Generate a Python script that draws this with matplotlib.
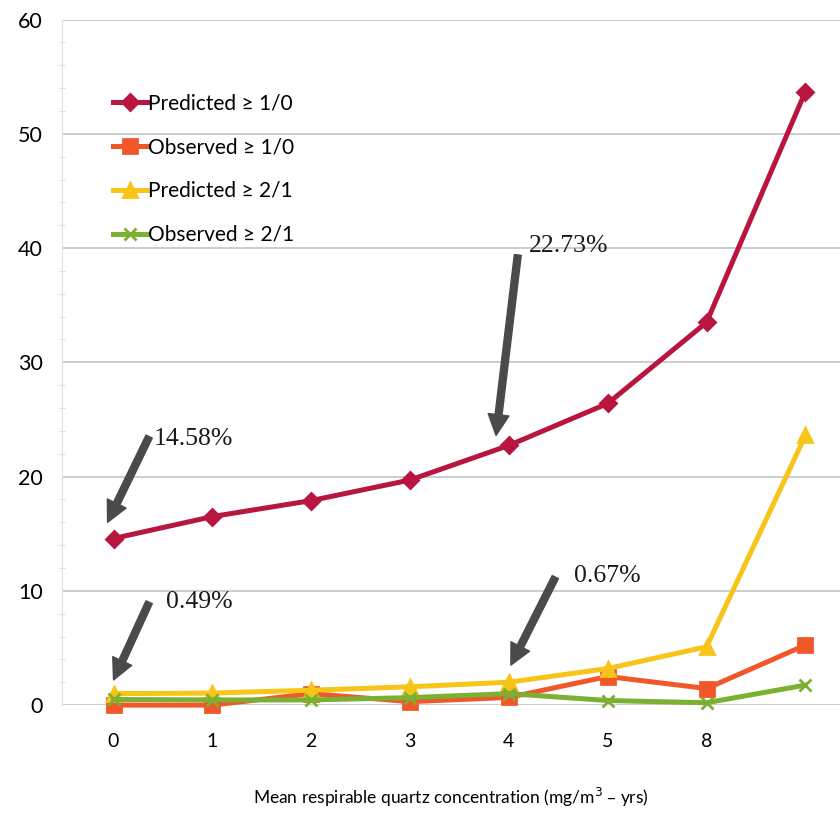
import matplotlib.pyplot as plt
from matplotlib.ticker import MultipleLocator

# exposure categories (mg/m3 - yrs); the last category has no printed label
categories = ['0', '1', '2', '3', '4', '5', '8', '']

predicted_10 = [14.58, 16.5, 17.9, 19.7, 22.73, 26.4, 33.5, 53.7]
observed_10 = [0.0, 0.0, 1.0, 0.3, 0.67, 2.5, 1.45, 5.25]
predicted_21 = [1.0, 1.05, 1.3, 1.6, 2.0, 3.2, 5.1, 23.6]
observed_21 = [0.49, 0.45, 0.45, 0.65, 1.0, 0.4, 0.2, 1.75]

# (label, tip x, tip y, tail x, tail y, text x, text y)
callouts = [
    ('14.58%', -0.06, 16.0, 0.36, 23.5, 0.41, 23.3),
    ('22.73%', 3.87, 23.6, 4.09, 39.4, 4.2, 40.2),
    ('0.49%', 0.0, 2.2, 0.36, 9.0, 0.53, 9.0),
    ('0.67%', 4.02, 3.5, 4.47, 11.2, 4.66, 11.3),
]

fig = plt.figure(figsize=(8.4, 8.17), dpi=100)
ax = fig.add_axes([0.074, 0.137, 0.926, 0.839])

x = list(range(len(categories)))
series = [
    (predicted_10, 'Predicted \u2265 1/0', '#B8163E', 'D', 8),
    (observed_10, 'Observed \u2265 1/0', '#F0582A', 's', 10),
    (predicted_21, 'Predicted \u2265 2/1', '#F7C418', '^', 10),
    (observed_21, 'Observed \u2265 2/1', '#7CB032', 'x', 9),
]
for vals, label, color, marker, ms in series:
    ax.plot(x, vals, color=color, lw=3.6, marker=marker, ms=ms,
            mew=2, label=label, clip_on=False, zorder=3)

for text, tx, ty, sx, sy, lx, ly in callouts:
    ax.annotate('', xy=(tx, ty), xytext=(sx, sy),
                arrowprops=dict(width=5, headwidth=15, headlength=15,
                                color='#4a4a4a', shrink=0))
    ax.text(lx, ly, text, fontsize=18.5, family='Liberation Serif',
            color='#1a1a1a', va='center', ha='left')

ax.set_xlim(-0.52, 7.35)
ax.set_ylim(0, 60)
ax.set_xticks(x)
ax.set_xticklabels(categories)
ax.yaxis.set_major_locator(MultipleLocator(10))
ax.yaxis.set_minor_locator(MultipleLocator(2))
ax.grid(axis='y', color='#c4c4c4', lw=1.2)
ax.set_axisbelow(True)

for side in ['top', 'right', 'bottom']:
    ax.spines[side].set_visible(False)
ax.spines['left'].set_color('#e0e0e0')
ax.tick_params(axis='x', length=0, pad=20, labelsize=14)
ax.tick_params(axis='y', which='major', length=0, pad=14, labelsize=15.5)
ax.tick_params(axis='y', which='minor', length=4, color='#d8d8d8',
               direction='inout')
for lbl in ax.get_xticklabels() + ax.get_yticklabels():
    lbl.set_family('Lato')

ax.set_xlabel('Mean respirable quartz concentration (mg/m$^3$ \u2013 yrs)',
              family='Lato', fontsize=12.5, labelpad=26)

ax.legend(loc='upper left', bbox_to_anchor=(0.055, 0.905), frameon=False,
          prop={'family': 'Lato', 'size': 15}, handlelength=1.6,
          handletextpad=0.05, labelspacing=1.15, borderaxespad=0)

fig.savefig('out.png', dpi=100)
